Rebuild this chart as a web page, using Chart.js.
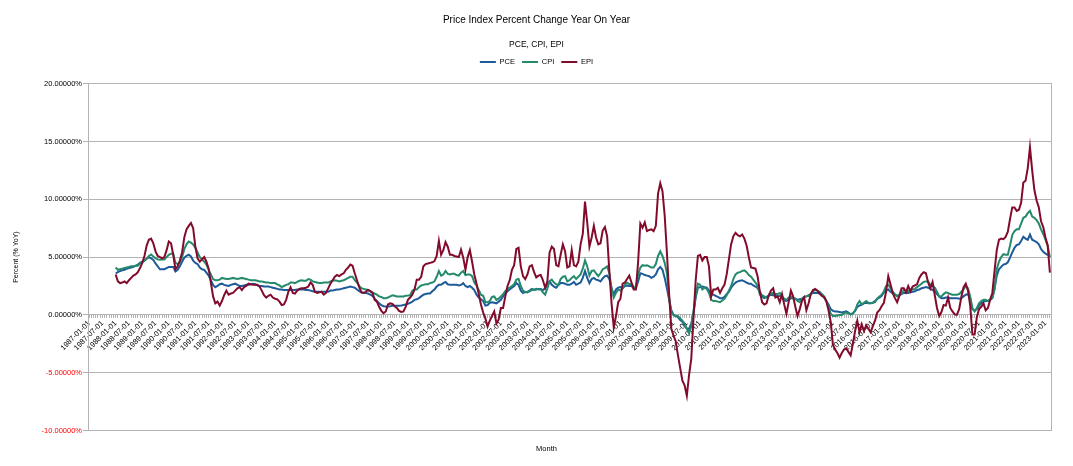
<!DOCTYPE html>
<html>
<head>
<meta charset="utf-8">
<title>Price Index Percent Change Year On Year</title>
<script src="https://cdn.jsdelivr.net/npm/chart.js@4.4.0/dist/chart.umd.min.js"></script>
<style>
    html, body { margin: 0; padding: 0; background: #ffffff; }
    #chartBox { width: 1073px; height: 466px; }
</style>
</head>
<body>
<div id="chartBox"><canvas id="priceChart"></canvas></div>
<script>
// month labels 1987-01-01 .. 2023-03-01
const firstYear = 1987;
const lastYear = 2023;
const lastMonth = 3;
const monthLabels = [];
for (let y = firstYear; y <= lastYear; y++) {
    for (let m = 1; m <= 12; m++) {
        if (y === lastYear && m > lastMonth) break;
        monthLabels.push(y + "-" + String(m).padStart(2, "0") + "-01");
    }
}

const yTicks = [-10, -5, 0, 5, 10, 15, 20];

// year on year % change, one row per year (1987 has no prior year)
const pceValues = [
    null, null, null, null, null, null, null, null, null, null, null, null,
    3.6, 3.7, 3.8, 3.85, 3.9, 4.0, 4.05, 4.1, 4.15, 4.25, 4.35, 4.5,
    4.6, 4.7, 4.85, 5.0, 4.9, 4.75, 4.45, 4.2, 3.95, 3.95, 3.95, 4.05,
    4.15, 4.15, 4.15, 3.75, 3.9, 4.2, 4.6, 4.95, 5.1, 5.2, 5.05, 4.7,
    4.5, 4.4, 4.1, 3.95, 3.9, 3.65, 3.4, 3.0, 2.6, 2.4, 2.5, 2.65,
    2.7, 2.6, 2.55, 2.5, 2.6, 2.65, 2.7, 2.6, 2.5, 2.5, 2.55, 2.6,
    2.6, 2.65, 2.7, 2.65, 2.55, 2.5, 2.5, 2.45, 2.45, 2.45, 2.4, 2.35,
    2.3, 2.25, 2.2, 2.2, 2.15, 2.15, 2.15, 2.15, 2.15, 2.15, 2.2, 2.2,
    2.2, 2.2, 2.15, 2.15, 2.1, 2.05, 2.0, 2.0, 2.0, 2.0, 2.0, 2.0,
    2.0, 2.1, 2.1, 2.15, 2.2, 2.2, 2.25, 2.3, 2.35, 2.4, 2.45, 2.4,
    2.35, 2.2, 2.05, 1.95, 1.92, 1.9, 1.85, 1.75, 1.65, 1.4, 1.2, 1.0,
    0.85, 0.75, 0.72, 0.72, 0.75, 0.8, 0.8, 0.8, 0.8, 0.82, 0.85, 0.9,
    0.95, 1.05, 1.15, 1.3, 1.35, 1.45, 1.6, 1.75, 1.8, 1.85, 1.85, 2.05,
    2.2, 2.45, 2.6, 2.6, 2.75, 2.85, 2.65, 2.6, 2.6, 2.6, 2.6, 2.55,
    2.6, 2.75, 2.5, 2.4, 2.5, 2.35, 2.15, 1.75, 1.5, 1.35, 1.2, 0.8,
    0.85, 1.05, 1.1, 1.05, 1.0, 1.15, 1.3, 1.6, 1.85, 2.05, 2.2, 2.35,
    2.5, 2.75, 2.6, 2.1, 1.9, 2.0, 1.95, 2.1, 2.25, 2.15, 2.2, 2.25,
    2.25, 2.15, 2.3, 2.6, 2.9, 2.6, 2.45, 2.35, 2.6, 2.75, 2.75, 2.7,
    2.6, 2.6, 2.7, 2.85, 2.6, 2.7, 2.8, 3.2, 3.8, 3.2, 2.75, 3.1,
    3.2, 3.05, 3.0, 2.9, 3.15, 3.35, 3.4, 3.1, 2.3, 1.75, 2.2, 2.35,
    2.4, 2.3, 2.5, 2.55, 2.5, 2.5, 2.3, 2.3, 2.9, 3.6, 3.55, 3.45,
    3.4, 3.35, 3.2, 3.3, 3.5, 3.95, 4.15, 3.9, 3.2, 2.3, 1.3, 0.4,
    0.0, -0.1, -0.2, -0.45, -0.6, -0.9, -1.2, -1.2, -0.75, 0.1, 1.5, 2.35,
    2.4, 2.45, 2.4, 2.35, 2.1, 1.8, 1.75, 1.65, 1.55, 1.45, 1.45, 1.55,
    1.8, 2.0, 2.35, 2.6, 2.8, 2.9, 2.95, 3.0, 2.9, 2.8, 2.7, 2.7,
    2.55, 2.45, 2.3, 2.0, 1.6, 1.45, 1.55, 1.65, 1.75, 1.7, 1.65, 1.6,
    1.65, 1.5, 1.25, 1.2, 1.3, 1.45, 1.45, 1.4, 1.3, 1.35, 1.4, 1.55,
    1.6, 1.65, 1.8, 1.9, 1.9, 1.9, 1.85, 1.75, 1.5, 1.2, 0.9, 0.5,
    0.35, 0.3, 0.3, 0.25, 0.2, 0.25, 0.3, 0.2, 0.05, 0.15, 0.35, 0.7,
    0.8, 0.9, 1.0, 1.05, 1.0, 1.0, 1.05, 1.2, 1.4, 1.5, 1.65, 1.95,
    2.1, 2.2, 2.0, 1.85, 1.75, 1.65, 1.7, 1.8, 1.9, 1.9, 1.9, 1.95,
    2.0, 2.05, 2.15, 2.2, 2.3, 2.35, 2.4, 2.35, 2.25, 2.15, 2.05, 1.8,
    1.6, 1.45, 1.45, 1.5, 1.5, 1.45, 1.45, 1.45, 1.45, 1.4, 1.45, 1.6,
    1.75, 1.8, 1.4, 0.5, 0.35, 0.5, 0.8, 1.0, 1.15, 1.2, 1.2, 1.3,
    1.45, 2.3, 3.4, 3.95, 4.15, 4.35, 4.4, 4.55, 4.95, 5.4, 5.8, 6.05,
    6.1, 6.4, 6.75, 6.6, 6.5, 6.95, 6.5, 6.4, 6.3, 6.1, 5.7, 5.45,
    5.3, 5.2, 5.15
];

const cpiValues = [
    null, null, null, null, null, null, null, null, null, null, null, null,
    4.1, 3.9, 3.95, 4.0, 4.05, 4.1, 4.15, 4.2, 4.2, 4.25, 4.25, 4.45,
    4.55, 4.7, 4.85, 5.1, 5.23, 5.05, 4.9, 4.8, 4.77, 4.8, 4.8, 5.0,
    5.2, 5.3, 5.3, 4.5, 4.4, 4.55, 5.0, 5.7, 6.1, 6.35, 6.25, 6.1,
    5.8, 5.4, 5.0, 4.8, 4.6, 4.35, 3.9, 3.5, 3.1, 3.0, 3.0, 3.05,
    3.2, 3.15, 3.1, 3.1, 3.15, 3.2, 3.15, 3.1, 3.15, 3.2, 3.15, 3.1,
    3.05, 3.0, 3.0, 3.0, 2.95, 2.9, 2.9, 2.85, 2.8, 2.8, 2.75, 2.75,
    2.75, 2.65, 2.55, 2.4, 2.5, 2.6, 2.65, 2.8, 2.8, 2.75, 2.85, 2.95,
    3.0, 2.95, 2.95, 3.1, 3.05, 2.9, 2.85, 2.8, 2.75, 2.75, 2.8, 2.8,
    2.8, 2.9, 2.95, 3.0, 2.95, 2.9, 2.95, 3.0, 3.1, 3.2, 3.3, 3.3,
    3.0, 2.8, 2.5, 2.3, 2.25, 2.2, 2.15, 2.05, 1.95, 1.85, 1.75, 1.6,
    1.55, 1.45, 1.45, 1.5, 1.6, 1.7, 1.65, 1.6, 1.6, 1.6, 1.6, 1.65,
    1.67, 1.7, 2.1, 2.2, 2.2, 2.4, 2.55, 2.6, 2.65, 2.65, 2.75, 2.8,
    2.9, 3.3, 3.8, 3.4, 3.5, 3.8, 3.55, 3.5, 3.55, 3.55, 3.45, 3.4,
    3.65, 3.8, 3.45, 3.5, 3.5, 3.35, 2.8, 2.55, 2.15, 1.75, 1.65, 1.1,
    1.1, 1.2, 1.55, 1.6, 1.3, 1.4, 1.6, 1.8, 2.05, 2.25, 2.35, 2.5,
    2.65, 3.05, 3.1, 2.5, 2.1, 1.95, 2.0, 2.05, 2.15, 2.2, 2.25, 2.2,
    2.2, 1.95, 1.75, 2.3, 2.9, 3.05, 2.8, 2.65, 2.6, 3.1, 3.3, 3.35,
    2.9, 3.0, 3.2, 3.35, 3.1, 3.3, 3.5, 4.0, 4.7, 4.2, 3.4, 3.8,
    3.85, 3.6, 3.35, 3.6, 3.95, 4.05, 4.2, 3.6, 2.3, 1.5, 1.9, 2.2,
    2.1, 2.3, 2.6, 2.8, 2.65, 2.7, 2.4, 2.4, 3.5, 4.1, 4.3, 4.25,
    4.3, 4.2, 4.1, 4.1, 4.4, 5.1, 5.5, 5.1, 4.5, 3.6, 1.5, 0.2,
    0.0, -0.1, -0.1, -0.3, -0.5, -0.8, -1.2, -1.6, -1.0, 0.3, 1.7, 2.7,
    2.6, 2.2, 2.35, 2.25, 1.9, 1.3, 1.2, 1.2, 1.15, 1.1, 1.25, 1.4,
    1.7, 2.1, 2.5, 3.1, 3.5, 3.65, 3.7, 3.8, 3.85, 3.7, 3.45, 3.3,
    3.05, 2.8, 2.5, 1.75, 1.7, 1.6, 1.5, 1.7, 1.85, 1.9, 1.8, 1.8,
    1.9, 1.6, 1.4, 1.3, 1.5, 1.6, 1.45, 1.4, 1.2, 1.1, 1.4, 1.55,
    1.6, 1.7, 1.8, 2.05, 2.15, 2.1, 2.0, 1.8, 1.6, 1.2, 0.7, 0.1,
    -0.1, -0.1, -0.05, 0.0, 0.0, 0.15, 0.2, 0.15, 0.05, 0.1, 0.35, 0.9,
    1.2, 0.9, 1.05, 1.2, 1.05, 1.0, 1.05, 1.1, 1.4, 1.6, 1.75, 2.05,
    2.5, 2.6, 2.3, 2.0, 1.8, 1.6, 1.75, 1.9, 2.15, 2.1, 2.05, 2.15,
    2.2, 2.25, 2.4, 2.55, 2.7, 2.85, 2.9, 2.9, 2.6, 2.5, 2.35, 2.0,
    1.6, 1.6, 1.8, 1.95, 1.9, 1.8, 1.75, 1.75, 1.75, 1.8, 2.0, 2.2,
    2.5, 2.3, 1.6, 0.6, 0.3, 0.6, 1.0, 1.2, 1.3, 1.3, 1.2, 1.35,
    1.5, 2.2, 3.95, 4.6, 5.0, 5.25, 5.2, 5.2, 6.0, 6.9, 7.25, 7.4,
    7.4, 7.9, 8.4, 8.5, 8.8, 9.0, 8.5, 8.4, 8.2, 7.9, 7.4, 7.0,
    6.5, 6.0, 5.0
];

const epiValues = [
    null, null, null, null, null, null, null, null, null, null, null, null,
    3.5, 2.9, 2.75, 2.8, 2.9, 2.75, 3.0, 3.2, 3.4, 3.5, 3.7, 4.05,
    4.5, 5.1, 6.0, 6.5, 6.6, 6.2, 5.5, 5.1, 5.0, 4.9, 5.0, 5.6,
    6.35, 6.2, 5.2, 3.95, 4.2, 4.7, 5.4, 6.7, 7.4, 7.7, 7.95, 7.5,
    5.9, 4.9, 4.6, 4.8, 5.0, 4.6, 4.0, 2.8, 1.6, 1.0, 1.15, 0.8,
    1.2, 1.7, 2.1, 1.75, 1.85, 1.9, 2.1, 2.3, 2.4, 2.15, 2.4, 2.5,
    2.7, 2.65, 2.6, 2.6, 2.6, 2.45, 2.1, 1.7, 1.5, 1.65, 1.75, 1.5,
    1.4, 1.35, 1.15, 0.85, 0.9, 1.3, 2.0, 2.4, 1.9, 1.85, 2.1, 2.25,
    2.3, 2.3, 2.35, 2.45, 2.8, 2.6, 2.0, 1.9, 1.95, 2.0, 1.75, 1.9,
    2.3, 2.7, 3.0, 3.3, 3.45, 3.35, 3.5, 3.6, 3.9, 4.1, 4.35, 4.25,
    3.6, 3.0, 2.4, 1.95, 1.9, 2.0, 2.15, 2.05, 1.9, 1.3, 1.15, 0.7,
    0.35, 0.15, 0.3, 0.9, 1.0, 0.95, 0.75, 0.6, 0.35, 0.25, 0.3, 0.7,
    1.3, 1.5, 1.75, 2.2, 3.05, 3.05, 3.3, 4.2, 4.4, 4.45, 4.5, 4.55,
    4.65, 5.1, 6.4, 5.2, 5.6, 6.3, 5.9, 5.2, 5.2, 5.1, 5.05, 5.0,
    5.65, 4.95, 3.9, 5.0, 5.6, 4.6, 3.5, 2.7, 1.8, 0.9, 0.2, -0.3,
    -1.0, -0.5, -0.1, 0.3, -0.75, -0.4, 0.6, 0.6, 1.6, 2.5, 3.0, 3.9,
    4.3, 5.7, 5.8, 4.2, 3.35, 3.1, 3.5, 4.2, 4.3, 3.7, 3.25, 3.4,
    3.45, 3.0, 2.35, 2.9, 5.4, 5.9, 5.7, 4.3, 4.2, 5.2, 6.1, 5.5,
    4.1, 4.2, 5.6, 4.3, 4.2, 4.6, 6.1, 7.0, 9.8, 8.0, 5.9, 6.7,
    7.7, 6.7, 6.1, 6.2, 7.3, 7.6, 6.8, 3.8, 1.0, -1.1, -0.1, 1.1,
    1.4, 2.7, 2.8, 3.1, 3.4, 2.8, 2.2, 2.2, 4.6, 7.9, 7.55, 8.0,
    7.25, 7.35, 7.4, 7.25, 7.7, 10.5, 11.4, 10.7, 8.6, 5.4, 1.8, -1.2,
    -1.8, -2.3, -3.5, -4.6, -5.7, -6.1, -7.0, -5.2, -3.8, -0.3, 3.0, 5.1,
    5.2, 4.7, 5.0, 5.0, 4.2, 1.6, 2.2, 2.2, 2.35, 1.9, 2.3, 2.6,
    3.5, 4.8, 6.1, 6.8, 7.1, 6.9, 6.8, 6.95, 6.6, 6.0, 5.0, 4.1,
    4.05, 4.0, 3.3, 2.0, 1.1, 0.9, 1.0, 1.7, 2.1, 2.3, 1.5, 1.6,
    1.1, 1.8, 0.9, 0.1, 1.1, 2.1, 1.6, 0.7, -0.1, 0.5, 1.2, 1.5,
    0.4, 1.0, 1.8, 2.15, 2.25, 2.1, 1.85, 1.65, 1.55, 1.2, 0.4, -0.6,
    -2.6, -3.0, -3.3, -3.7, -3.3, -3.0, -2.9, -3.2, -3.5, -2.5, -1.4, -0.5,
    -1.5, -0.8, -1.4, -0.9, -1.2, -1.5, -1.0, -0.5, 0.2, 0.4, 0.75, 1.05,
    2.0, 3.35, 2.65, 1.9, 1.45, 1.1, 1.65, 2.3, 2.3, 1.95, 2.5, 2.05,
    2.45, 2.55, 2.65, 3.2, 3.5, 3.7, 3.6, 2.8, 2.3, 2.85, 1.7, 0.6,
    -0.1, 0.25, 0.85, 0.8, 1.5, 0.6, 0.3, 0.05, 0.0, 0.5, 1.55, 2.4,
    2.7, 2.1, 0.8, -1.7, -1.7, -0.2, 0.5, 0.7, 1.0, 0.4, 0.6, 1.3,
    1.9, 3.8, 5.6, 6.5, 6.6, 6.55, 6.75, 7.2, 8.3, 9.3, 9.3, 9.0,
    9.1, 9.7, 11.45, 11.6, 12.7, 14.5, 12.5, 10.8, 9.9, 9.3, 8.1, 7.6,
    6.7, 6.0, 3.65
];

const seriesColors = {
    pce: "#1d5b9b",
    cpi: "#258a6c",
    epi: "#820b2b"
};
const gridGray = "#b3b3b3";
const fontName = "'Liberation Sans', Arial, sans-serif";

Chart.defaults.font.family = fontName;
Chart.defaults.color = "#000000";

// push the plot a little further below the legend
const legendGap = {
    id: "legendGap",
    beforeInit(chart) {
        const fitLegend = chart.legend.fit;
        chart.legend.fit = function () {
            fitLegend.bind(chart.legend)();
            this.height += 8;
        };
    }
};

// x axis title sits at the bottom, the axis itself runs along 0 %
const monthTitle = {
    id: "monthTitle",
    afterDraw(chart) {
        const ctx = chart.ctx;
        ctx.save();
        ctx.font = "7.5px " + fontName;
        ctx.fillStyle = "#000000";
        ctx.textAlign = "center";
        ctx.textBaseline = "middle";
        ctx.fillText("Month", chart.width / 2 + 10, chart.height - 17);
        ctx.restore();
    }
};

const priceChart = new Chart(document.getElementById("priceChart"), {
    type: "line",
    data: {
        labels: monthLabels,
        datasets: [
            { label: "PCE", data: pceValues, borderColor: seriesColors.pce, backgroundColor: seriesColors.pce, order: 3 },
            { label: "CPI", data: cpiValues, borderColor: seriesColors.cpi, backgroundColor: seriesColors.cpi, order: 2 },
            { label: "EPI", data: epiValues, borderColor: seriesColors.epi, backgroundColor: seriesColors.epi, order: 1 }
        ]
    },
    options: {
        responsive: true,
        maintainAspectRatio: false,
        animation: false,
        events: [],
        layout: { padding: { top: 0, right: 0, bottom: 35.5, left: 0 } },
        elements: {
            line: { borderWidth: 2, tension: 0 },
            point: { radius: 0, borderWidth: 2 }
        },
        plugins: {
            title: {
                display: true,
                text: "Price Index Percent Change Year On Year",
                color: "#000000",
                font: { size: 10, weight: "normal" },
                padding: { top: 14, bottom: 14 }
            },
            subtitle: {
                display: true,
                text: "PCE, CPI, EPI",
                color: "#000000",
                font: { size: 8.5 },
                padding: { top: 0, bottom: 1 }
            },
            legend: {
                display: true,
                position: "top",
                labels: {
                    usePointStyle: true,
                    pointStyle: "line",
                    pointStyleWidth: 16,
                    padding: 7,
                    color: "#000000",
                    font: { size: 7.5 },
                    sort: (a, b) => a.datasetIndex - b.datasetIndex
                }
            },
            tooltip: { enabled: false }
        },
        scales: {
            x: {
                position: { y: 0 },
                offset: true,
                grid: { display: true, drawOnChartArea: false, drawTicks: true, tickLength: 3, color: gridGray },
                border: { display: true, color: gridGray },
                ticks: {
                    autoSkip: false,
                    minRotation: 45,
                    maxRotation: 45,
                    padding: 1,
                    color: "#000000",
                    font: { size: 7.5 },
                    callback: function (value, index) {
                        return index % 6 === 0 ? this.getLabelForValue(value) : "";
                    }
                }
            },
            y: {
                min: yTicks[0],
                max: yTicks[yTicks.length - 1],
                afterFit: scale => { scale.width = 88; },
                afterBuildTicks: scale => { scale.ticks = yTicks.map(v => ({ value: v })); },
                grid: { color: gridGray, tickLength: 5 },
                border: { color: gridGray },
                ticks: {
                    padding: 1,
                    font: { size: 7.5 },
                    color: ctx => ctx.tick.value < 0 ? "#ff0000" : "#000000",
                    callback: v => v.toFixed(5) + "%"
                },
                title: {
                    display: true,
                    text: "Percent (% YoY)",
                    color: "#000000",
                    font: { size: 7 },
                    padding: { top: 11.5, bottom: 10 }
                }
            },
            y2: {
                position: "right",
                min: yTicks[0],
                max: yTicks[yTicks.length - 1],
                afterFit: scale => { scale.width = 22; },
                grid: { display: false, drawTicks: false },
                border: { display: true, color: gridGray },
                ticks: { display: false }
            }
        }
    },
    plugins: [legendGap, monthTitle]
});
</script>
</body>
</html>
